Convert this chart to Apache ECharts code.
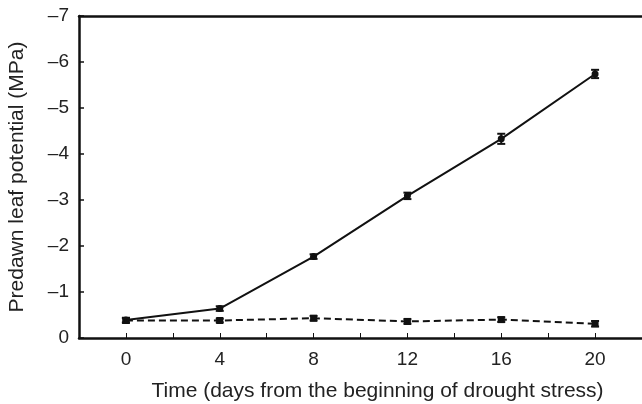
<!DOCTYPE html>
<html>
<head>
<meta charset="utf-8">
<script src="https://cdn.jsdelivr.net/npm/echarts@6/dist/echarts.min.js"></script>
<style>
  html, body { margin: 0; padding: 0; background: #fff; }
  #chart { width: 642px; height: 404px; }
</style>
</head>
<body>
<div id="chart"></div>
<script>
// days after drought stress began
const days = [0, 4, 8, 12, 16, 20];
// stressed plants (solid line)
const stressed = [-0.39, -0.64, -1.77, -3.09, -4.33, -5.74];
const stressedErr = [0.05, 0.05, 0.05, 0.07, 0.11, 0.09];
// control plants (dashed line)
const control = [-0.38, -0.38, -0.43, -0.36, -0.40, -0.31];
const controlErr = [0.05, 0.04, 0.05, 0.05, 0.05, 0.06];
const xTickLabels = [0, 4, 8, 12, 16, 20];
const yTickLabels = ["0", "–1", "–2", "–3", "–4", "–5", "–6", "–7"];

const font = "Liberation Sans, Arial, sans-serif";
const chart = echarts.init(document.getElementById("chart"));

function pairs(vals) {
  return days.map((d, i) => [d, vals[i]]);
}
function errData(vals, errs) {
  return days.map((d, i) => [d, vals[i] - errs[i], vals[i] + errs[i]]);
}

// 误差线
function renderErr(params, api) {
  const x = api.value(0);
  const lo = api.coord([x, api.value(1)]);
  const hi = api.coord([x, api.value(2)]);
  const w = 4;
  const style = { stroke: "#111", lineWidth: 2 };
  return {
    type: "group",
    children: [
      { type: "line", shape: { x1: lo[0], y1: lo[1], x2: hi[0], y2: hi[1] }, style },
      { type: "line", shape: { x1: lo[0] - w, y1: lo[1], x2: lo[0] + w, y2: lo[1] }, style },
      { type: "line", shape: { x1: hi[0] - w, y1: hi[1], x2: hi[0] + w, y2: hi[1] }, style }
    ]
  };
}

const option = {
  animation: false,
  grid: { left: 79, right: 0, top: 16, bottom: 66, outerBoundsMode: "none" },
  xAxis: [
    {
      type: "value",
      min: -2,
      max: 22,
      interval: 2,
      name: "Time (days from the beginning of drought stress)",
      nameLocation: "middle",
      nameGap: 43,
      nameTextStyle: { fontFamily: font, fontSize: 21, color: "#222", padding: [0, 0, 0, 34] },
      axisLine: { onZero: false, lineStyle: { color: "#111", width: 2.5 } },
      axisTick: { show: true, inside: true, length: 5, lineStyle: { color: "#111", width: 1 } },
      axisLabel: {
        fontFamily: font, fontSize: 19, color: "#222", margin: 12,
        formatter: v => (xTickLabels.indexOf(v) >= 0 ? String(v) : "")
      },
      splitLine: { show: false }
    },
    {
      type: "value",
      position: "top",
      min: -2,
      max: 22,
      axisLine: { show: true, onZero: false, lineStyle: { color: "#111", width: 2.5 } },
      axisTick: { show: false },
      axisLabel: { show: false },
      splitLine: { show: false }
    }
  ],
  yAxis: {
    type: "value",
    min: -7,
    max: 0,
    interval: 1,
    inverse: true,
    name: "Predawn leaf potential (MPa)",
    nameLocation: "middle",
    nameGap: 51,
    nameTextStyle: { fontFamily: font, fontSize: 21, color: "#222" },
    axisLine: { show: true, onZero: false, lineStyle: { color: "#111", width: 2.5 } },
    axisTick: { show: true, inside: true, length: 5, lineStyle: { color: "#111", width: 1.5 } },
    axisLabel: {
      fontFamily: font, fontSize: 19, color: "#222", margin: 10,
      formatter: v => yTickLabels[Math.round(-v)]
    },
    splitLine: { show: false }
  },
  series: [
    {
      type: "line",
      data: pairs(stressed),
      symbol: "circle",
      symbolSize: 7,
      itemStyle: { color: "#111" },
      lineStyle: { color: "#111", width: 2 },
      z: 3
    },
    {
      type: "line",
      data: pairs(control),
      symbol: "rect",
      symbolSize: 7,
      itemStyle: { color: "#111" },
      lineStyle: { color: "#111", width: 2, type: [7, 4] },
      z: 3
    },
    {
      type: "custom",
      renderItem: renderErr,
      data: errData(stressed, stressedErr),
      encode: { x: 0, y: [1, 2] },
      z: 4
    },
    {
      type: "custom",
      renderItem: renderErr,
      data: errData(control, controlErr),
      encode: { x: 0, y: [1, 2] },
      z: 4
    }
  ]
};

chart.setOption(option);
</script>
</body>
</html>
